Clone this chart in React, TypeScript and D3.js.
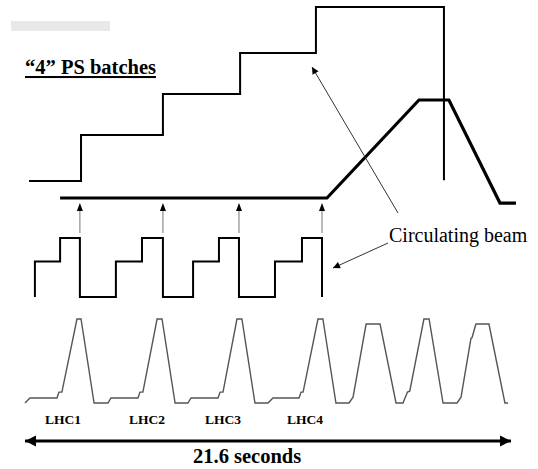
import * as d3 from 'd3';

// time axis of the whole supercycle, seconds
const T_MAX = 21.6;

// upper staircase: number of PS batches stacked (time s, batches)
const stairs: [number, number][] = [
  [0.18, 0], [2.49, 0], [2.49, 1.06], [6.13, 1.06], [6.13, 2], [9.56, 2],
  [9.56, 2.94], [12.93, 2.94], [12.93, 4], [18.62, 4], [18.62, 0.02],
];

// circulating beam energy in the SPS (time s, GeV)
const beam: [number, number][] = [
  [1.56, 26], [13.42, 26], [17.51, 450], [18.84, 450], [21.11, 4], [21.82, 4],
];

// PS cycles (time s, relative level)
const psCycle: [number, number][] = [
  [0.44, 0], [0.44, 0.6], [1.56, 0.6], [1.56, 1], [2.44, 1], [2.44, 0],
  [4.04, 0], [4.04, 0.6], [5.2, 0.6], [5.2, 1], [6.13, 1], [6.13, 0],
  [7.47, 0], [7.47, 0.6], [8.62, 0.6], [8.62, 1], [9.51, 1], [9.51, 0],
  [11.11, 0], [11.11, 0.6], [12.31, 0.6], [12.31, 1], [13.2, 1], [13.2, 0],
];

// injection moments (arrows PS -> SPS)
const injections = [2.44, 6.13, 9.51, 13.2];

// lower trace: supercycle of the lower machine (time s, relative level)
const lowCycle: [number, number][] = [
  [0, 0], [0.22, 0.06], [1.42, 0.06], [1.51, 0.13], [1.64, 0.13], [2.31, 1], [2.49, 1], [3.07, 0], [3.69, 0],
  [3.82, 0.06], [5.02, 0.06], [5.11, 0.13], [5.24, 0.13], [5.87, 1], [6.09, 1], [6.67, 0], [7.24, 0],
  [7.38, 0.06], [8.58, 0.06], [8.67, 0.13], [8.8, 0.13], [9.42, 1], [9.64, 1], [10.22, 0], [10.8, 0],
  [11.02, 0.06], [12.18, 0.06], [12.27, 0.13], [12.36, 0.13], [13.02, 1], [13.24, 1], [13.82, 0], [14.4, 0],
  [14.58, 0.07], [15.16, 0.94], [15.78, 0.94], [16.49, 0], [16.8, 0],
  [17.0, 0.13], [17.1, 0.14], [17.73, 1], [17.96, 1], [18.58, 0], [19.2, 0],
  [19.38, 0.07], [19.82, 0.77], [19.87, 0.78], [20.04, 0.94], [20.62, 0.94], [21.33, 0], [21.47, 0],
];

const lhcLabels = ['LHC1', 'LHC2', 'LHC3', 'LHC4'];
const lhcLabelT = [1.69, 5.42, 8.8, 12.44];

const W = 538;
const H = 469;
const serif = 'Liberation Serif, DejaVu Serif, serif';

export default function App() {
  const x = d3.scaleLinear().domain([0, T_MAX]).range([25, 511]);
  const yStairs = d3.scaleLinear().domain([0, 4]).range([181, 7]);
  const yBeam = d3.scaleLinear().domain([26, 450]).range([198, 100]);
  const yPs = d3.scaleLinear().domain([0, 1]).range([297, 238]);
  const yLow = d3.scaleLinear().domain([0, 1]).range([403, 319]);

  const line = (ys: d3.ScaleLinear<number, number>) =>
    d3.line<[number, number]>().x(d => x(d[0])).y(d => ys(d[1]));

  return (
    <svg width={W} height={H} style={{ position: 'absolute', left: 0, top: 0, background: '#fff', fontFamily: serif }}>
      <defs>
        <marker id="head" viewBox="0 0 10 10" refX="10" refY="5" markerWidth="9" markerHeight="7"
          markerUnits="userSpaceOnUse" orient="auto">
          <path d="M0,0 L10,5 L0,10 z" fill="#000" />
        </marker>
        <marker id="bigHead" viewBox="0 0 10 10" refX="10" refY="5" markerWidth="11" markerHeight="12"
          markerUnits="userSpaceOnUse" orient="auto-start-reverse">
          <path d="M0,0 L10,5 L0,10 z" fill="#000" />
        </marker>
      </defs>

      <rect x={11} y={21} width={99} height={10} fill="#e8e8e8" />

      <text x={25} y={74} style={{ fontFamily: serif }} fontWeight="bold" fontSize={20.5}
        textDecoration="underline" fill="#000">“4” PS batches</text>

      <path d={line(yStairs)(stairs) ?? ''} fill="none" stroke="#000" strokeWidth={2} />
      <path d={line(yBeam)(beam) ?? ''} fill="none" stroke="#000" strokeWidth={3.2} />
      <path d={line(yPs)(psCycle) ?? ''} fill="none" stroke="#000" strokeWidth={2} />
      <path d={line(yLow)(lowCycle) ?? ''} fill="none" stroke="#555" strokeWidth={1.4} />

      {injections.map((t, i) => (
        <g key={i}>
          <line x1={x(t)} x2={x(t)} y1={233} y2={209} stroke="#777" strokeWidth={1} />
          <path d={`M${x(t)},${203} L${x(t) - 3},${211} L${x(t) + 3},${211} z`} fill="#000" />
        </g>
      ))}

      <text x={389} y={242} style={{ fontFamily: serif }} fontSize={20} fill="#000">Circulating beam</text>
      <line x1={398} y1={213} x2={312} y2={67} stroke="#333" strokeWidth={1} markerEnd="url(#head)" />
      <line x1={388} y1={243} x2={333} y2={268} stroke="#333" strokeWidth={1} markerEnd="url(#head)" />

      {lhcLabels.map((l, i) => (
        <text key={l} x={x(lhcLabelT[i])} y={424} textAnchor="middle" style={{ fontFamily: serif }}
          fontWeight="bold" fontSize={13.5} fill="#000">{l}</text>
      ))}

      <line x1={x(0)} x2={x(T_MAX)} y1={441} y2={441} stroke="#000" strokeWidth={3}
        markerStart="url(#bigHead)" markerEnd="url(#bigHead)" />
      <text x={193} y={463} style={{ fontFamily: serif }} fontWeight="bold" fontSize={20.5} fill="#000">21.6 seconds</text>
    </svg>
  );
}
